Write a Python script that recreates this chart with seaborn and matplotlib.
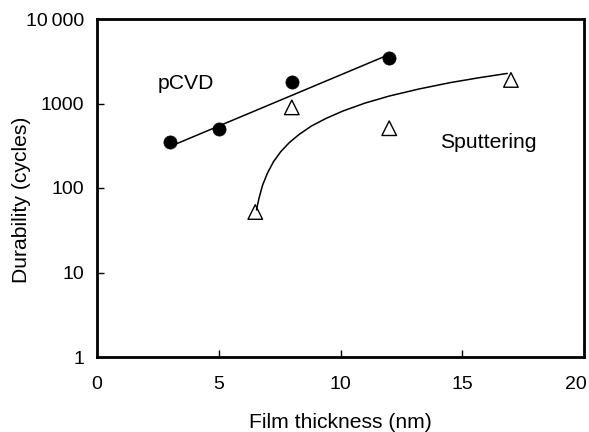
import matplotlib
matplotlib.use("Agg")
import matplotlib.pyplot as plt
import matplotlib.transforms as mtransforms
import numpy as np
import pandas as pd
import seaborn as sns
from matplotlib.ticker import FixedLocator, FixedFormatter, NullLocator

# Measured durability vs. film thickness
thickness_pcvd = [3, 5, 8, 12]
cycles_pcvd = [350, 500, 1800, 3500]

thickness_sput = [6.5, 8, 12, 17]
cycles_sput = [52, 900, 510, 1900]

# Guide lines through each data set
pcvd_guide_x = [3, 12]
pcvd_guide_y = [310, 3800]

sput_guide_x = [6.55, 6.65, 6.8, 7.0, 7.25, 7.55, 7.9, 8.3, 8.8, 9.4, 10.1,
                11.0, 12.0, 13.2, 14.5, 15.7, 16.85]
sput_guide_y = [55, 75, 108, 150, 205, 270, 345, 430, 540, 665, 815,
                1010, 1225, 1480, 1765, 2020, 2270]

x_ticks = [0, 5, 10, 15, 20]
y_ticks = [1, 10, 100, 1000, 10000]
y_tick_labels = ["1", "10", "100", "1000", "10\u2009000"]

sns.set_theme(style="white")
plt.rcParams["font.family"] = ["Liberation Sans", "DejaVu Sans"]

fig = plt.figure(figsize=(5.89, 4.32), dpi=100)
ax = fig.add_axes([97 / 589, 1 - 357 / 432, (584 - 97) / 589, (357 - 19) / 432])

pcvd = pd.DataFrame({"x": thickness_pcvd, "y": cycles_pcvd})
sput = pd.DataFrame({"x": thickness_sput, "y": cycles_sput})
pcvd_line = pd.DataFrame({"x": pcvd_guide_x, "y": pcvd_guide_y})
sput_line = pd.DataFrame({"x": sput_guide_x, "y": sput_guide_y})

sns.lineplot(data=pcvd_line, x="x", y="y", ax=ax, color="black", lw=1.1,
             estimator=None, sort=False, zorder=2)
sns.lineplot(data=sput_line, x="x", y="y", ax=ax, color="black", lw=1.1,
             estimator=None, sort=False, zorder=2)

sns.scatterplot(data=pcvd, x="x", y="y", ax=ax, marker="o", s=90,
                color="black", edgecolor="black", linewidth=0.5, zorder=3)
sns.scatterplot(data=sput, x="x", y="y", ax=ax, marker="^", s=110,
                facecolor="none", edgecolor="black", linewidth=1.0, zorder=3)

ax.set_yscale("log")
ax.set_xlim(0, 20)
ax.set_ylim(1, 10000)

ax.xaxis.set_major_locator(FixedLocator(x_ticks))
ax.yaxis.set_major_locator(FixedLocator(y_ticks))
ax.yaxis.set_major_formatter(FixedFormatter(y_tick_labels))
ax.yaxis.set_minor_locator(NullLocator())

ax.tick_params(axis="both", which="major", direction="in", length=5, width=1.0,
               color="black", labelsize=14, labelcolor="black")
ax.tick_params(axis="x", top=False, bottom=True, pad=14)
ax.tick_params(axis="y", left=True, right=False, pad=9)

for spine in ax.spines.values():
    spine.set_visible(True)
    spine.set_linewidth(2.0)
    spine.set_color("black")

ax.set_xlabel("Film thickness (nm)", fontsize=15.2, color="black", labelpad=14)
ax.set_ylabel("Durability (cycles)", fontsize=15.2, color="black")
ax.yaxis.set_label_coords(-0.136, 0.465)

ax.text(2.5, 1470, "pCVD", fontsize=15.2, ha="left", va="baseline", color="black")
ax.text(14.1, 295, "Sputtering", fontsize=15.2, ha="left", va="baseline", color="black")

# Nudge the last x tick label inward so it stays inside the canvas
fig.canvas.draw()
last = ax.xaxis.get_major_ticks()[-1].label1
last.set_transform(last.get_transform()
                   + mtransforms.ScaledTranslation(-6 / 72, 0, fig.dpi_scale_trans))

fig.savefig("out.png", dpi=100)
